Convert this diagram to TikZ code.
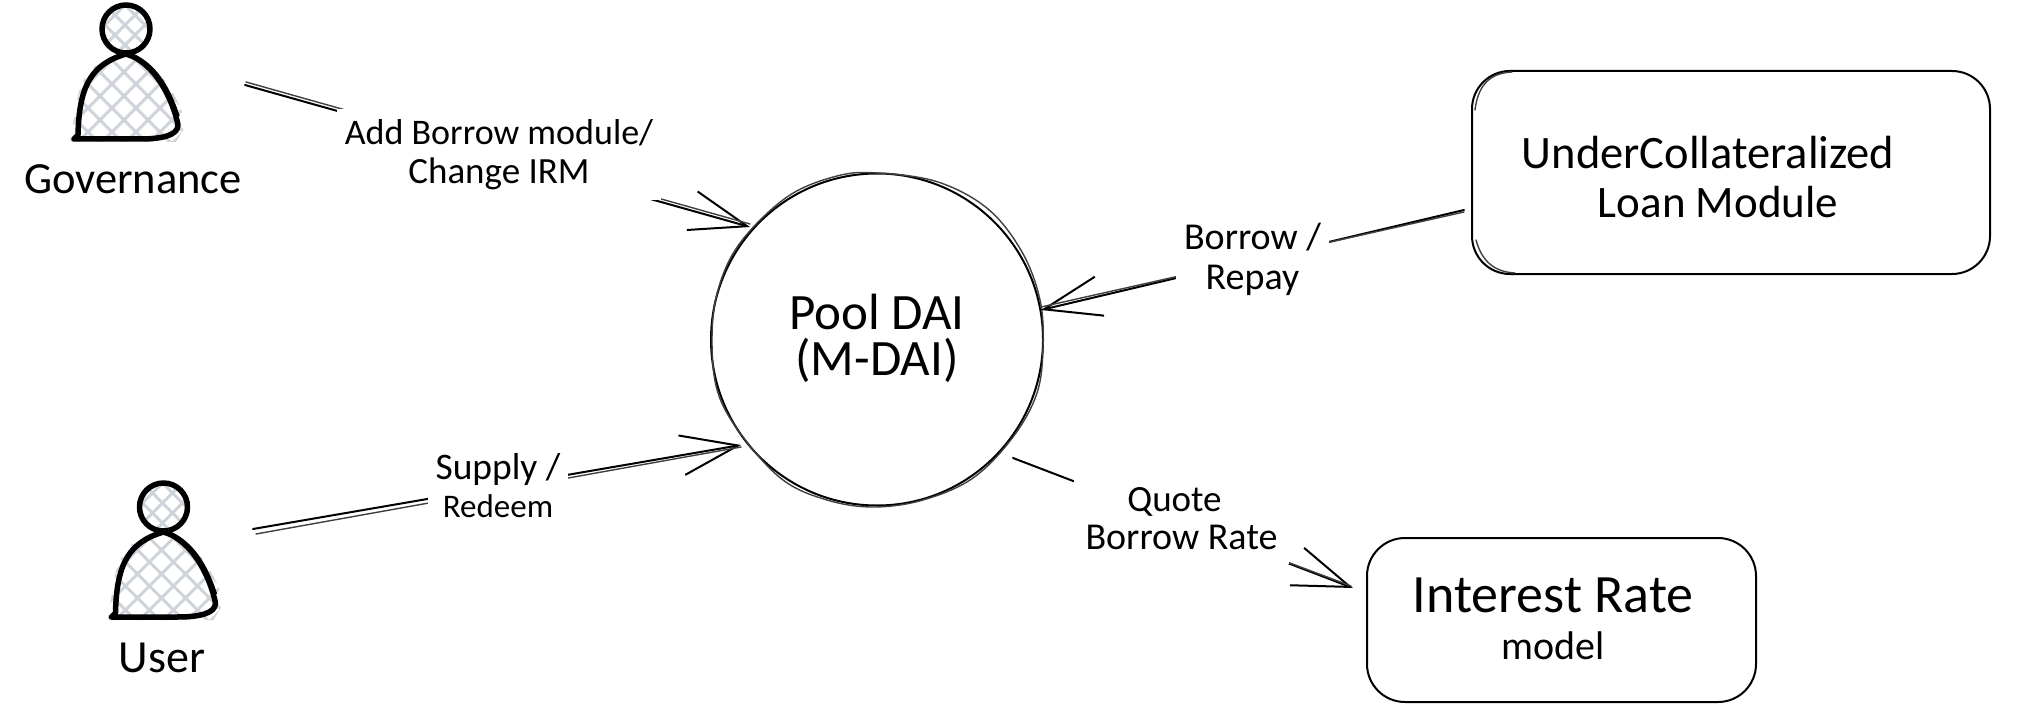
\documentclass[tikz,border=0pt]{standalone}
\usepackage{fontspec}
\setmainfont{Carlito}
\usetikzlibrary{arrows.meta}
\definecolor{hach}{HTML}{CED4DA}
\newcommand{\fsz}[2]{\fontsize{#1}{#2}\selectfont}
\tikzset{
  x=1pt,y=-1pt,
  ink/.style={draw=black,line width=2pt,line cap=round,line join=round},
  sketchpass/.style={draw=black!75,line width=1.4pt,line cap=round},
  flow/.style={ink,-{Straight Barb[length=57pt,width=40pt]}},
  boxnode/.style={ink,rounded corners=38pt,align=center,inner sep=0pt},
  flowlabel/.style={fill=white,inner sep=0pt,align=center},
  plaintext/.style={inner sep=0pt,align=center},
  hachure/.style={draw=hach,line width=3pt},
  personink/.style={draw=black,line width=5.5pt,line cap=round,line join=round},
  person/.pic={
    \begin{scope}
      \clip (70,142) -- (78,95) .. controls (84,70) and (100,58) .. (126,52) .. controls (160,62) and (180,100) .. (186,125) -- (176,142) -- cycle;
      \foreach \d in {-100,-76,...,200} {\draw[hachure] (\d,40) -- ++(120,120);}
      \foreach \d in {60,84,...,340} {\draw[hachure] (\d,40) -- ++(-120,120);}
    \end{scope}
    \begin{scope}
      \clip (126,29) circle (24);
      \foreach \d in {60,80,...,160} {\draw[hachure] (\d,0) -- ++(60,60);}
      \foreach \d in {110,130,...,210} {\draw[hachure] (\d,0) -- ++(-60,60);}
    \end{scope}
    \draw[personink] (126,29) circle (24);
    \draw[personink] (74,139) -- (78,135) .. controls (79,85) and (92,64) .. (126,54) .. controls (155,62) and (173,100) .. (178,125) .. controls (178,136) and (160,139) .. (140,139) -- (74,139);
    \draw[draw=black,line width=1.4pt] (132,54) .. controls (160,66) and (172,95) .. (179,116);
  },
}
\begin{document}
\begin{tikzpicture}
\useasboundingbox (0,0) rectangle (2034,722);
\fill[white] (0,0) rectangle (2034,722);

% actors
\pic (governance) at (0,0) {person};
\pic (user) at (37.5,478) {person};
\node[plaintext,font=\fsz{44.5}{46}] (govname) at (133,179) {Governance};
\node[plaintext,font=\fsz{46}{48}] (username) at (162,658) {User};

% main nodes
\node[ink,circle,minimum size=332pt,inner sep=0pt] (pool) at (877,339.5) {};
\draw[sketchpass] plot[smooth cycle,tension=0.6] coordinates {(878,173) (938,182) (988,209) (1022,252) (1040,300) (1043,347) (1037,393) (1013,437) (973,478) (923,500) (873,507) (827,500) (783,480) (743,437) (718,393) (712,340) (718,290) (740,243) (787,197) (837,176)};
\node[plaintext,font=\fsz{51}{46}] (pooltext) at (877,338) {Pool DAI\\(M-DAI)};
\node[boxnode,minimum width=518pt,minimum height=203pt] (loan) at (1731,172.5) {};
\node[plaintext,font=\fsz{46.5}{49}] (loantext) at (1708,177) {UnderCollateralized\\\hspace*{20pt}\fsz{45}{49}Loan Module};
\node[boxnode,minimum width=389pt,minimum height=164pt] (irm) at (1561.5,620) {};
\node[plaintext,font=\fsz{54}{47}] (irmtext) at (1553,619) {Interest Rate\\\fsz{40}{47}model};
\draw[sketchpass] (1475,110) .. controls (1478,85) and (1490,73) .. (1512,72);
\draw[sketchpass] (1476,240) .. controls (1482,262) and (1495,272) .. (1515,273);

% free ends and node ends of the connectors
\coordinate (govout) at (245,85);
\coordinate (userout) at (253,529);
\coordinate (quoteout) at (1013,458);
\coordinate (addtip) at (750,227);
\coordinate (supplytip) at (741,445);
\coordinate (borrowtip) at (1041,310);
\coordinate (borrowout) at (1464,210);
\coordinate (quotetip) at (1353,588);

% connectors
\draw[flow] (govout) -- (addtip);
\draw[sketchpass] ([shift={(1,-3)}]govout) -- ([shift={(0,-3)}]addtip);
\draw[flow] (userout) -- (supplytip);
\draw[sketchpass] ([shift={(3,5)}]userout) -- ([shift={(0,2)}]supplytip);
\draw[flow] (borrowout) -- (borrowtip);
\draw[sketchpass] ([shift={(0,2)}]borrowout) -- ([shift={(0,-3)}]borrowtip);
\draw[flow] (quoteout) -- (quotetip);
\draw[sketchpass] (1181,522) -- ([shift={(-2,-2)}]quotetip);

% connector labels
\node[flowlabel,font=\fsz{36}{39},minimum width=324pt,minimum height=91pt] (addlabel) at (499,155) {Add Borrow module/\\\fsz{37}{39}Change IRM};
\node[flowlabel,font=\fsz{37.5}{38},minimum width=140pt,minimum height=80pt] (supplylabel) at (498,486) {Supply /\\\fsz{33}{38}Redeem};
\node[flowlabel,font=\fsz{38}{40},minimum width=153pt,minimum height=88pt] (borrowlabel) at (1252.5,259) {Borrow /\\Repay};
\node[flowlabel,font=\fsz{38}{38},minimum width=215pt,minimum height=90pt] (quotelabel) at (1181.5,519) {\fsz{37}{38}Quote\hspace*{14pt}\\Borrow Rate};
\end{tikzpicture}
\end{document}
